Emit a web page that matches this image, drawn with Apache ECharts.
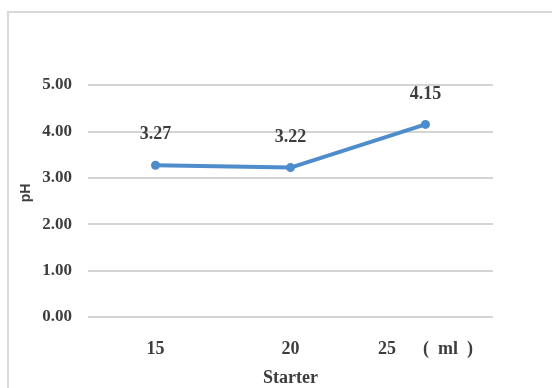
<!DOCTYPE html>
<html>
<head>
<meta charset="utf-8">
<script src="https://cdn.jsdelivr.net/npm/echarts@6/dist/echarts.min.js"></script>
<style>
  html, body { margin: 0; padding: 0; background: #fff; }
  #chart { width: 552px; height: 388px; }
</style>
</head>
<body>
<div id="chart"></div>
<script>
// Starter volume (ml) and resulting pH
const categories = ['15', '20', '25'];
const phValues = [3.27, 3.22, 4.15];
const unitText = '(  ml  )';
const yTitle = 'pH';
const xTitle = 'Starter';
const yMin = 0, yMax = 5, yStep = 1;

const serif = '"Liberation Serif", "Times New Roman", serif';
const sans = '"Liberation Sans", Arial, sans-serif';
const textColor = '#3d3d3d';

const chart = echarts.init(document.getElementById('chart'), null, { renderer: 'canvas' });

chart.setOption({
  backgroundColor: '#ffffff',
  animation: false,
  graphic: [
    {
      type: 'rect',
      shape: { x: 8, y: 12, width: 600, height: 420 },
      style: { fill: 'none', stroke: '#d9d9d9', lineWidth: 2 },
      silent: true
    },
    {
      type: 'text',
      x: 26, y: 193,
      rotation: Math.PI / 2,
      style: {
        text: yTitle,
        font: 'bold 14px ' + sans,
        fill: textColor,
        align: 'center',
        verticalAlign: 'middle'
      },
      silent: true
    }
  ],
  // fixed plot box; the axis title may run to the bottom edge
  grid: { left: 88, right: 59, top: 85, bottom: 71, outerBoundsMode: 'none' },
  xAxis: {
    type: 'category',
    data: categories,
    name: xTitle,
    nameLocation: 'middle',
    nameGap: 52,
    nameTextStyle: { fontFamily: serif, fontWeight: 'bold', fontSize: 18, color: textColor },
    axisLine: { show: false },
    axisTick: { show: false },
    axisLabel: {
      margin: 23,
      fontFamily: serif, fontWeight: 'bold', fontSize: 18, color: textColor,
      formatter: (v, i) => i === categories.length - 1 ? v + '      ' + unitText : v
    }
  },
  yAxis: {
    type: 'value',
    min: yMin, max: yMax, interval: yStep,
    axisLine: { show: false },
    axisTick: { show: false },
    axisLabel: {
      margin: 16,
      fontFamily: serif, fontWeight: 'bold', fontSize: 17, color: textColor,
      formatter: v => v.toFixed(2)
    },
    splitLine: { lineStyle: { color: '#d4d4d4', width: 2 } }
  },
  series: [{
    type: 'line',
    data: phValues,
    symbol: 'circle',
    symbolSize: 9,
    lineStyle: { color: '#4f8ccb', width: 4 },
    itemStyle: { color: '#4f8ccb' },
    label: {
      show: true,
      position: 'top',
      distance: 17,
      fontFamily: serif, fontWeight: 'bold', fontSize: 18, color: textColor,
      formatter: p => p.value.toFixed(2)
    }
  }]
});
</script>
</body>
</html>
